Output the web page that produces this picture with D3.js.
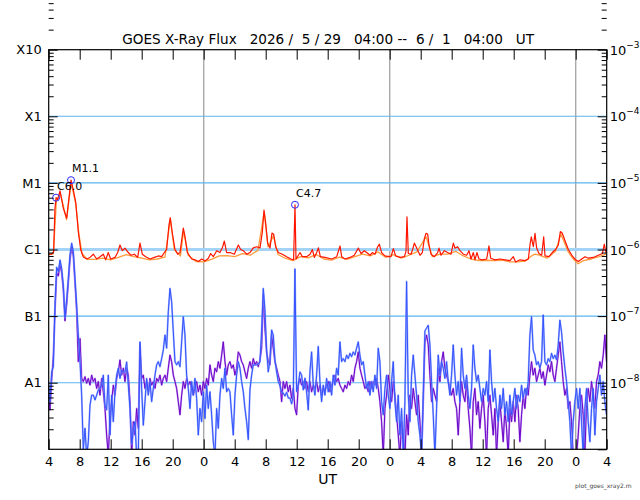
<!DOCTYPE html>
<html lang="en">
<head>
    <meta charset="UTF-8">
    <title>GOES X-Ray Flux</title>
    <style>
        body { margin: 0; background: #ffffff; }
        svg text { font-family: "DejaVu Sans", sans-serif; fill: #000; }
        .title { font-size: 13.6px; white-space: pre; }
        .tick text { font-size: 13px; }
        .foot { font-size: 6px; fill: #444; }
    </style>
</head>
<body>
<svg id="chart" width="640" height="500"></svg>
<script src="https://d3js.org/d3.v7.min.js"></script>
<script>
    // ---- data -------------------------------------------------------------
    const titleText = "GOES X-Ray Flux   2026 /  5 / 29   04:00 --  6 /  1   04:00   UT";
    const startUtc = Date.UTC(2026, 4, 29, 4, 0);
    const endUtc = Date.UTC(2026, 5, 1, 4, 0);

    const decadeValues = [1e-3, 1e-4, 1e-5, 1e-6, 1e-7, 1e-8];
    const classLabels = ["X10", "X1", "M1", "C1", "B1", "A1"];
    const powerLabels = ["-3", "-4", "-5", "-6", "-7", "-8"];

    // long channel (1-8 A), hours after 04:00 UT
    const redHours = [0, 0.39, 0.64, 0.8, 0.95, 1.16, 1.46, 1.89, 2.32, 2.62, 2.88, 3.18, 3.48, 3.82, 4.13, 4.47,
        4.9, 5.33, 5.76, 6.19, 6.62, 7.05, 7.35, 7.69, 7.99, 8.55, 8.9, 9.2, 9.5, 9.84, 10.27, 10.62, 11.05, 11.48,
        11.78, 12.08, 12.51, 13.07, 13.63, 14.15, 14.58, 14.92, 15.22, 15.52, 15.69, 15.95, 16.3, 16.64, 16.94,
        17.16, 17.37, 17.59, 17.89, 18.45, 18.88, 19.31, 19.74, 20.17, 20.6, 20.9, 21.24, 21.68, 22.1, 22.41,
        22.66, 22.96, 23.39, 23.95, 24.47, 24.77, 25.11, 25.54, 25.97, 26.4, 26.83, 27.27, 27.57, 27.78, 28.0,
        28.25, 28.55, 28.81, 29.03, 29.28, 29.63, 30.14, 30.7, 31.26, 31.6, 31.78, 31.91, 32.21, 32.43, 32.73,
        33.29, 33.72, 34.02, 34.28, 34.58, 34.8, 35.05, 35.65, 36.51, 37.16, 37.59, 37.8, 38.23, 38.88, 39.43,
        39.95, 40.3, 40.73, 41.03, 41.46, 41.76, 42.1, 42.45, 42.66, 42.96, 43.39, 43.91, 44.17, 44.47, 44.77,
        45.33, 45.89, 46.1, 46.23, 46.4, 46.75, 46.96, 47.18, 47.48, 47.91, 48.21, 48.47, 48.68, 48.9, 49.07,
        49.33, 49.76, 50.19, 50.36, 50.62, 51.05, 51.48, 51.91, 52.21, 52.42, 52.77, 53.07, 53.5, 53.93, 54.23,
        54.49, 54.79, 55.0, 55.26, 55.52, 55.95, 56.51, 56.81, 57.03, 57.59, 58.23, 58.88, 59.52, 59.95, 60.25,
        60.81, 61.46, 61.89, 62.1, 62.27, 62.53, 62.75, 62.96, 63.26, 63.61, 63.87, 64.04, 64.55, 64.98, 65.41,
        65.76, 66.02, 66.27, 66.62, 67.05, 67.56, 67.99, 68.34, 68.77, 69.2, 69.63, 70.27, 70.92, 71.44, 71.69,
        71.91, 72.0];
    const redFlux = [8.5e-7, 8.5e-7, 9.2e-7, 4.0e-6, 6.0e-6, 5.6e-6, 7.6e-6, 4.15e-6, 2.95e-6, 6.0e-6, 1.1e-5,
        7.8e-6, 5.2e-6, 1.86e-6, 9.9e-7, 7.7e-7, 7.2e-7, 7.6e-7, 8.5e-7, 7.2e-7, 7.8e-7, 8.5e-7, 7.0e-7, 9.0e-7,
        7.2e-7, 7.6e-7, 9.0e-7, 1.17e-6, 9.6e-7, 1.05e-6, 9.0e-7, 8.2e-7, 8.5e-7, 7.6e-7, 1.25e-6, 8.5e-7, 7.8e-7,
        7.2e-7, 7.6e-7, 8.0e-7, 7.8e-7, 9.0e-7, 1.0e-6, 2.35e-6, 3.0e-6, 1.77e-6, 1.0e-6, 8.5e-7, 9.0e-7, 1.39e-6,
        2.1e-6, 1.55e-6, 9.0e-7, 7.2e-7, 7.0e-7, 6.6e-7, 7.2e-7, 6.7e-7, 7.4e-7, 8.7e-7, 7.8e-7, 9.6e-7, 9.0e-7,
        1.06e-6, 1.34e-6, 9.0e-7, 9.0e-7, 8.5e-7, 1.17e-6, 1.0e-6, 9.6e-7, 8.5e-7, 9.0e-7, 1.06e-6, 1.1e-6,
        1.06e-6, 1.86e-6, 3.9e-6, 2.5e-6, 1.25e-6, 1.05e-6, 1.77e-6, 1.7e-6, 1.1e-6, 9.0e-7, 8.5e-7, 7.8e-7,
        7.2e-7, 7.0e-7, 4.7e-6, 7.2e-7, 8.2e-7, 9.0e-7, 7.8e-7, 7.8e-7, 8.5e-7, 1.0e-6, 7.6e-7, 9.0e-7, 1.06e-6,
        7.8e-7, 7.6e-7, 7.2e-7, 7.8e-7, 1.13e-6, 7.8e-7, 7.2e-7, 7.6e-7, 8.2e-7, 1.05e-6, 8.7e-7, 9.6e-7, 9.0e-7,
        8.2e-7, 9.0e-7, 8.5e-7, 1.1e-6, 1.2e-6, 9.0e-7, 8.0e-7, 7.8e-7, 7.8e-7, 1.03e-6, 8.0e-7, 7.6e-7, 7.8e-7,
        9.3e-7, 3.1e-6, 8.7e-7, 8.5e-7, 1.0e-6, 1.25e-6, 1.05e-6, 8.2e-7, 9.0e-7, 1.45e-6, 1.75e-6, 1.7e-6,
        1.17e-6, 8.5e-7, 7.8e-7, 9.0e-7, 1.05e-6, 8.2e-7, 9.6e-7, 9.0e-7, 8.5e-7, 1.25e-6, 1.05e-6, 1.1e-6,
        9.6e-7, 8.5e-7, 8.2e-7, 9.6e-7, 7.2e-7, 9.0e-7, 7.0e-7, 9.0e-7, 7.2e-7, 7.0e-7, 7.2e-7, 1.13e-6, 7.4e-7,
        7.0e-7, 7.2e-7, 7.0e-7, 6.8e-7, 7.8e-7, 6.5e-7, 7.0e-7, 6.8e-7, 7.2e-7, 1.17e-6, 1.55e-6, 1.1e-6,
        1.75e-6, 1.05e-6, 8.7e-7, 8.2e-7, 1.55e-6, 8.0e-7, 7.8e-7, 9.0e-7, 1.0e-6, 1.17e-6, 1.86e-6, 1.75e-6,
        1.35e-6, 1.0e-6, 8.0e-7, 7.0e-7, 6.6e-7, 7.2e-7, 7.8e-7, 7.4e-7, 7.6e-7, 8.2e-7, 8.7e-7, 1.2e-6, 9.0e-7,
        9.0e-7];

    // long channel, second satellite
    const orangeHours = [0, 0.6, 1.0, 1.5, 2.3, 2.9, 3.5, 3.9, 4.3, 5, 6, 7, 8, 9, 10, 11, 12, 13, 14, 15, 15.7,
        16.2, 17, 17.4, 18, 19, 20, 21, 22, 23, 24, 25, 26, 27, 27.8, 28.3, 29, 29.6, 30.5, 31.5, 32.5, 33.5,
        34.5, 35.5, 36.5, 37.5, 38.5, 39.5, 40.5, 41.5, 42.5, 43.5, 44.5, 45.5, 46.5, 47.5, 48.7, 49.5, 50.5,
        51.5, 52.5, 53.5, 54.5, 55.5, 56.5, 57.5, 58.5, 59.5, 60.5, 61.5, 62.3, 62.75, 63.3, 64.3, 65.4, 66.1,
        67, 67.6, 68.3, 69, 70, 71, 72];
    const orangeFlux = [8.4e-7, 8.7e-7, 5.5e-6, 7.0e-6, 2.8e-6, 1.0e-5, 4.8e-6, 1.7e-6, 8.7e-7, 7.1e-7, 7.1e-7,
        7.4e-7, 7.0e-7, 7.6e-7, 8.4e-7, 7.8e-7, 7.4e-7, 7.0e-7, 7.2e-7, 7.7e-7, 2.8e-6, 1.0e-6, 8.0e-7, 1.9e-6,
        8.2e-7, 6.6e-7, 6.5e-7, 7.1e-7, 8.0e-7, 8.1e-7, 7.8e-7, 8.7e-7, 8.2e-7, 9.7e-7, 3.6e-6, 1.1e-6, 1.6e-6,
        8.4e-7, 7.4e-7, 6.8e-7, 7.8e-7, 7.5e-7, 8.4e-7, 7.2e-7, 6.9e-7, 7.7e-7, 7.1e-7, 7.8e-7, 8.5e-7, 8.0e-7,
        9.2e-7, 7.6e-7, 8.4e-7, 7.4e-7, 8.2e-7, 9.2e-7, 1.55e-6, 7.8e-7, 8.5e-7, 8.5e-7, 9.4e-7, 8.0e-7, 7.2e-7,
        6.8e-7, 6.9e-7, 6.8e-7, 6.9e-7, 6.5e-7, 6.5e-7, 6.7e-7, 8.0e-7, 8.5e-7, 8.2e-7, 7.4e-7, 9.4e-7, 1.7e-6,
        9.4e-7, 7.4e-7, 6.1e-7, 6.8e-7, 7.2e-7, 7.8e-7, 8.6e-7];

    // short channel (0.5-4 A), one sample every 12.9 min starting 04:00 - 3 min
    const shortStartHour = -0.047;
    const shortStepHour = 0.215;
    const blueFlux = [
        1.04e-8, 5.2e-9, 1.46e-8, 1.74e-8, 1.5e-7, 5.4e-7, 4.65e-7, 6.95e-7, 5.2e-7, 2.9e-7,
        9.5e-8, 1.75e-7, 3.7e-7, 8.3e-7, 1.24e-6, 9.3e-7, 3.7e-7, 1.47e-7, 5.2e-8, 2.07e-8,
        6.5e-9, 1.0e-9, 2.07e-9, 8e-10, 1.3e-9, 4.6e-9, 6.5e-9, 6.5e-9, 5.5e-9, 6.5e-9,
        7.8e-9, 8.2e-9, 9.2e-9, 1.3e-8, 4.6e-9, 3.9e-9, 1.3e-8, 1.64e-9, 6.5e-9, 2.6e-9,
        7.3e-9, 1.3e-8, 1.65e-8, 1.16e-8, 1.55e-8, 1.45e-8, 1.45e-8, 2.05e-8, 9.2e-9, 4.1e-9,
        1.2e-9, 1.95e-9, 2.6e-9, 8e-10, 8e-10, 4.1e-8, 8.2e-9, 2.3e-9, 5.2e-9, 1.16e-8,
        6.5e-9, 1.04e-8, 5.2e-9, 8.2e-9, 1.3e-8, 1.85e-8, 2.07e-8, 1.74e-8, 2.3e-8, 3.1e-8,
        5.2e-8, 3.3e-8, 1.16e-7, 2.6e-7, 1.65e-7, 5.8e-8, 2.07e-8, 1.85e-8, 2.07e-8, 1.74e-8,
        4.1e-8, 9.8e-8, 5.2e-8, 1.3e-8, 8.2e-9, 4.1e-9, 1.04e-8, 6.5e-9, 1.16e-8, 5.8e-9,
        1.64e-9, 4.1e-9, 2.6e-9, 7.3e-9, 2.9e-9, 9.2e-9, 4.1e-9, 7.3e-9, 3.3e-9, 1.3e-9,
        8e-10, 4.1e-9, 2.07e-9, 6.5e-9, 1.16e-8, 8.2e-9, 1.65e-8, 7.3e-9, 8.2e-9,
        7.3e-9, 3.3e-9, 1.64e-9, 6.5e-9, 1.3e-8, 2.07e-8, 1.65e-8, 1.04e-8, 7.3e-9, 4.1e-9,
        2.6e-9, 1.4e-9, 7.8e-9, 1.3e-8, 1.85e-8, 1.85e-8, 1.85e-8, 1.9e-8, 2.05e-8, 6e-8,
        2.6e-7, 1.24e-7, 3.1e-8, 1.45e-8, 2.2e-8, 6.2e-8, 5.2e-8, 2.2e-8, 1.45e-8, 1.04e-8,
        9e-9, 7.2e-9, 7e-9, 6.3e-9, 7.2e-9, 5.9e-9, 5.9e-9, 4.8e-9, 6.3e-9, 5.1e-7,
        7.3e-9, 9.2e-9, 1.45e-8, 1.3e-8, 7.8e-9, 1.17e-8, 7.3e-9, 3.9e-9, 1.45e-8, 2.9e-8,
        9.2e-9, 6.5e-9, 1.3e-8, 3.5e-8, 1.04e-8, 5.2e-9, 9.2e-9, 6.5e-9, 1.16e-8, 7.3e-9,
        1.04e-8, 6.5e-9, 1.3e-8, 9.2e-9, 1.65e-8, 1.3e-8, 4.1e-8, 2.07e-8, 2.3e-8, 2.07e-8,
        2.6e-8, 2.3e-8, 2.76e-8, 2.45e-8, 2.9e-8, 2.6e-8, 3.3e-8, 4.1e-8, 2.6e-8, 1.85e-8,
        2.07e-8, 1.3e-8, 8.2e-9, 1.04e-8, 6.5e-9, 1.04e-8, 7.3e-9, 1.3e-8, 8.2e-9, 3.3e-8,
        2.07e-8, 5.2e-9, 3.3e-9, 8.2e-9, 1.3e-8, 6.5e-9, 4.1e-9, 1.04e-8, 2.07e-8, 5.2e-9,
        2.6e-9, 6.5e-9, 1.64e-9, 4.1e-9, 8e-10, 5.2e-9, 3.3e-7, 6.5e-9, 2.6e-9, 1.3e-8,
        2.6e-8, 1.3e-8, 6.5e-9,
        2.6e-9, 1.64e-9, 8e-10, 6.5e-9, 6e-8, 6.6e-8, 7.3e-8, 3.7e-8, 1.04e-8, 3.3e-9,
        8e-10, 4.1e-9, 2.6e-8, 1.3e-8, 2.07e-8, 1.65e-8, 1.16e-8, 2.07e-8, 1.04e-8, 6.5e-9,
        1.3e-8, 3.7e-8, 1.3e-8, 6.5e-9, 1.04e-8, 5.2e-9, 3.3e-8, 1.3e-8, 8.2e-9, 1.3e-8,
        6.5e-9, 4.1e-9, 8.2e-9, 3.7e-8, 1.65e-8, 1.04e-8, 1.3e-8, 8.2e-9, 5.2e-9, 8.2e-9,
        6.5e-9, 1.04e-8, 5.2e-9, 3.1e-8, 1.04e-8, 5.2e-9, 8.2e-9, 4.1e-9, 2.6e-9, 6.5e-9,
        4.1e-9, 8.2e-9, 3.3e-9, 5.2e-9, 2.6e-9, 6.5e-9, 3.3e-9, 5.2e-9, 8.2e-9, 4.1e-9,
        6.5e-9, 5.2e-9, 9.2e-9, 5.8e-9, 8.2e-9, 6.5e-9, 1.04e-8, 5.2e-8, 9.8e-8, 3.1e-8,
        2.6e-8, 1.85e-8, 2.07e-8, 1.65e-8, 2.07e-8, 1.04e-7, 2.07e-8, 1.85e-8, 2.3e-8, 2.07e-8,
        2.76e-8, 2.3e-8, 2.6e-8, 2.2e-8, 3.7e-8, 8.7e-8, 5.8e-8, 2.9e-8, 1.65e-8, 1.04e-8,
        5.2e-9, 2.6e-9, 8e-10, 2.6e-9, 5.2e-9, 8.2e-9, 4.1e-9, 8.2e-9, 2.6e-9, 8e-10,
        4.1e-9, 8.2e-9, 2.6e-9, 1.3e-9, 4.1e-9, 8.2e-9, 1.64e-9, 5.2e-9, 8.2e-9, 1.3e-8,
        6.5e-9, 1.04e-8, 5.2e-9, 3.3e-9];
    const purpleFlux = [
        6.5e-9, 3.9e-9, 1.1e-8, 2.5e-8, 1.2e-7, 4.5e-7, 4e-7, 6e-7, 4.5e-7, 2.5e-7,
        8.5e-8, 1.5e-7, 3.2e-7, 7e-7, 1.1e-6, 8e-7, 3.2e-7, 1.2e-7, 2.07e-8, 4.6e-8,
        1.17e-8, 1.04e-8, 1.23e-8, 9.8e-9, 1.16e-8, 9.2e-9, 1.3e-8, 1.04e-8, 1.16e-8, 8.2e-9,
        1.04e-8, 6.5e-9, 1.16e-8, 7.3e-9, 4.1e-9, 1.64e-9, 8e-10, 3e-9, 5.2e-9, 9.2e-9,
        6.5e-9, 1.16e-8, 1.46e-8, 2.2e-8, 1.3e-8, 1.65e-8, 1.04e-8, 1.65e-8, 1.3e-8, 5.2e-9,
        8e-10, 2.6e-9, 1.64e-9, 4.1e-9, 2.07e-9, 3.7e-8, 1.16e-8, 1.3e-8, 8.2e-9, 1.04e-8,
        7.3e-9, 1.16e-8, 9.2e-9, 1.04e-8, 8.2e-9, 1.16e-8, 1.04e-8, 1.3e-8, 9.2e-9, 1.16e-8,
        1.3e-8, 1.04e-8, 1.65e-8, 2.6e-8, 2.07e-8, 1.3e-8, 1.04e-8, 8.2e-9, 5.2e-9, 3.3e-9,
        6.5e-9, 1.04e-8, 8.2e-9, 1.16e-8, 9.2e-9, 1.04e-8, 8.2e-9, 6.5e-9, 8.2e-9, 1.04e-8,
        7.3e-9, 9.2e-9, 6.5e-9, 1.04e-8, 8.2e-9, 1.16e-8, 9.2e-9, 1.85e-8, 1.3e-8, 1.04e-8,
        1.65e-8, 1.46e-8, 2.07e-8, 1.65e-8, 2.6e-8, 4.1e-8, 2.07e-8, 1.3e-8, 1.85e-8,
        2.07e-8, 1.65e-8, 1.85e-8, 1.3e-8, 1.65e-8, 2.9e-8, 2.6e-8, 2.07e-8, 1.85e-8, 1.46e-8,
        1.16e-8, 1.65e-8, 2.07e-8, 1.65e-8, 2.3e-8, 1.85e-8, 2.07e-8, 1.74e-8, 2.2e-8, 3.3e-8,
        2.1e-7, 6.6e-8, 2.9e-8, 2.07e-8, 1.85e-8, 5.2e-8, 3.3e-8, 2.07e-8, 1.65e-8, 1.3e-8,
        1.04e-8, 5.2e-9, 1.04e-8, 8.2e-9, 1.04e-8, 7.3e-9, 9.2e-9, 5.8e-9, 8.2e-9, 4.1e-9,
        3.3e-9, 9.2e-9, 1.16e-8, 9.2e-9, 1.04e-8, 8.2e-9, 1.04e-8, 7.3e-9, 1.04e-8, 7.3e-9,
        9.2e-9, 8.2e-9, 1.04e-8, 7.3e-9, 9.2e-9, 6.5e-9, 8.2e-9, 7.3e-9, 9.2e-9, 1.04e-8,
        7.3e-9, 9.2e-9, 1.04e-8, 1.3e-8, 1.04e-8, 1.16e-8, 9.2e-9, 8.2e-9, 7.3e-9, 9.2e-9,
        8.2e-9, 1.04e-8, 9.2e-9, 1.3e-8, 1.04e-8, 1.65e-8, 2.07e-8, 2.9e-8, 1.65e-8, 1.3e-8,
        1.04e-8, 8.2e-9, 9.2e-9, 7.3e-9, 1.04e-8, 8.2e-9, 1.04e-8, 9.2e-9, 1.16e-8, 8.2e-9,
        5.2e-9, 2.6e-9, 8e-10, 4.1e-9, 6.5e-9, 1.3e-8, 8.2e-9, 5.2e-9, 1.04e-8, 6.5e-9,
        3.3e-9, 1.64e-9, 8e-10, 2.6e-9, 1.64e-9, 8e-10, 3.3e-9, 1.64e-9, 6.5e-9, 4.1e-9,
        8.2e-9, 5.2e-9, 3.3e-9,
        6.5e-9, 2.6e-9, 8e-10, 5.2e-9, 4.1e-8, 5.2e-8, 3.7e-8, 1.3e-8, 5.2e-9, 8.2e-9,
        6.5e-9, 5.2e-9, 1.65e-8, 1.04e-8, 2.07e-8, 2.9e-8, 1.65e-8, 1.3e-8, 1.04e-8, 8.2e-9,
        6.5e-9, 8.2e-9, 5.2e-9, 4.1e-9, 1.64e-9, 5.2e-9, 1.04e-8, 6.5e-9, 5.2e-9, 1.04e-8,
        4.1e-9, 2.07e-9, 8e-10, 5.2e-9, 8.2e-9, 3.3e-9, 5.2e-9, 2.07e-9, 4.1e-9, 6.5e-9,
        2.6e-9, 8e-10, 4.1e-9, 6.5e-9, 3.3e-9, 1.64e-9, 4.1e-9, 8e-10, 2.6e-9, 5.2e-9,
        2.6e-9, 1.3e-9, 4.1e-9, 2.07e-9, 8e-10, 4.1e-9, 2.6e-9, 5.2e-9, 2.6e-9, 6.5e-9,
        4.1e-9, 1.3e-9, 3.3e-9, 6.5e-9, 4.1e-9, 8.2e-9, 6.5e-9, 1.3e-8, 2.07e-8, 1.3e-8,
        1.65e-8, 1.04e-8, 1.3e-8, 1.65e-8, 1.16e-8, 1.46e-8, 9.2e-9, 1.3e-8, 1.85e-8, 1.46e-8,
        2.07e-8, 1.3e-8, 1.04e-8, 1.65e-8, 2.6e-8, 4.1e-8, 2.07e-8, 1.04e-8, 6.5e-9, 8.2e-9,
        4.1e-9, 5.2e-9, 2.6e-9, 8e-10, 8e-10, 8e-10, 1.64e-9, 4.1e-9, 6.5e-9, 3.3e-9,
        8e-10, 5.2e-9, 8.2e-9, 5.2e-9, 1.04e-8, 6.5e-9, 4.1e-9, 1.04e-8, 1.3e-8, 2.07e-8,
        1.65e-8, 2.6e-8, 5.2e-8, 2.07e-8];

    // flare peaks marked on the plot
    const flareNames = ["C6.0", "M1.1", "C4.7"];
    const flareHours = [0.95, 2.88, 31.78];
    const flareFlux = [6.0e-6, 1.1e-5, 4.7e-6];

    // ---- layout ------------------------------------------------------------
    let plot = {left: 48.7, right: 606.7, top: 49.7, bottom: 449.3};

    const hourToDate = h => new Date(startUtc + h * 3600e3);

    let x = d3.scaleUtc()
        .domain([new Date(startUtc), new Date(endUtc)])
        .range([plot.left, plot.right]);

    let y = d3.scaleLog()
        .domain([1e-9, 1e-3])
        .range([plot.bottom, plot.top]);

    const svg = d3.select("#chart");

    svg.append("defs").append("clipPath")
        .attr("id", "plotClip")
        .append("rect")
        .attr("x", plot.left)
        .attr("y", plot.top)
        .attr("width", plot.right - plot.left)
        .attr("height", plot.bottom - plot.top);

    // grid lines
    let hourTicks = d3.utcHour.every(4).range(new Date(startUtc), new Date(endUtc + 1));
    let midnights = d3.utcDay.range(new Date(startUtc), new Date(endUtc));

    svg.append("g")
        .selectAll("line")
        .data(midnights)
        .join("line")
        .attr("x1", d => x(d))
        .attr("x2", d => x(d))
        .attr("y1", plot.top)
        .attr("y2", plot.bottom)
        .attr("stroke", "#a9a9a9")
        .attr("stroke-width", 1.4);

    svg.append("g")
        .selectAll("line")
        .data(decadeValues.slice(1))
        .join("line")
        .attr("x1", plot.left)
        .attr("x2", plot.right)
        .attr("y1", d => y(d))
        .attr("y2", d => y(d))
        .attr("stroke", d => d === 1e-6 ? "#a3d3f6" : "#5db5ef")
        .attr("stroke-width", d => d === 1e-6 ? 3 : 1.1);

    // data lines
    const data = svg.append("g").attr("clip-path", "url(#plotClip)");

    let line = d3.line()
        .x(d => x(hourToDate(d[0])))
        .y(d => y(d[1]));

    function drawSeries(hours, flux, color, width, opacity) {
        data.append("path")
            .datum(d3.zip(hours, flux))
            .attr("fill", "none")
            .attr("stroke", color)
            .attr("stroke-width", width)
            .attr("stroke-opacity", opacity)
            .attr("stroke-linejoin", "round")
            .attr("d", line);
    }

    let shortHours = d3.range(blueFlux.length).map(i => shortStartHour + i * shortStepHour);
    let shortHoursP = d3.range(purpleFlux.length).map(i => shortStartHour + i * shortStepHour);

    drawSeries(shortHoursP, purpleFlux, "#b070e8", 1.9, 0.7);
    drawSeries(shortHoursP, purpleFlux, "#6a05c9", 1.0, 1);
    drawSeries(shortHours, blueFlux, "#7f97ff", 1.9, 0.7);
    drawSeries(shortHours, blueFlux, "#3352ff", 1.0, 1);
    drawSeries(orangeHours, orangeFlux, "#ff9b3d", 1.3, 1);
    drawSeries(redHours, redFlux, "#ff1500", 1.2, 1);

    // flare markers
    let flares = d3.zip(flareNames, flareHours, flareFlux);
    svg.append("g")
        .selectAll("circle")
        .data(flares)
        .join("circle")
        .attr("cx", d => x(hourToDate(d[1])))
        .attr("cy", d => y(d[2]))
        .attr("r", 3.5)
        .attr("fill", "none")
        .attr("stroke", "#2a2aff")
        .attr("stroke-width", 1);

    svg.append("g")
        .selectAll("text")
        .data(flares)
        .join("text")
        .attr("x", d => x(hourToDate(d[1])) + 1)
        .attr("y", d => y(d[2]) - 8)
        .style("font-size", "11px")
        .text(d => d[0]);

    // axes: ticks drawn inward
    function cleanAxis(g) {
        g.select(".domain").remove();
        g.selectAll(".tick line").attr("stroke", "#000");
    }

    svg.append("g")
        .attr("transform", `translate(0, ${plot.bottom})`)
        .call(d3.axisBottom(x).tickValues(hourTicks).tickSizeInner(-10).tickSizeOuter(0).tickPadding(7)
            .tickFormat(d => d.getUTCHours()))
        .call(cleanAxis);

    svg.append("g")
        .attr("transform", `translate(0, ${plot.top})`)
        .call(d3.axisTop(x).tickValues(hourTicks).tickSizeInner(-10).tickSizeOuter(0).tickFormat(""))
        .call(cleanAxis);

    let majorValues = [1e-9].concat(decadeValues);
    let minorValues = [];
    majorValues.slice(0, -1).forEach(v => {
        for (let m = 2; m <= 9; m++) minorValues.push(v * m);
    });

    svg.append("g")
        .attr("transform", `translate(${plot.left}, 0)`)
        .call(d3.axisLeft(y).tickValues(decadeValues).tickSizeInner(-9).tickSizeOuter(0).tickPadding(7)
            .tickFormat((d, i) => classLabels[i]))
        .call(cleanAxis);

    svg.append("g")
        .attr("transform", `translate(${plot.left}, 0)`)
        .call(d3.axisLeft(y).tickValues(minorValues).tickSizeInner(-5).tickSizeOuter(0).tickFormat(""))
        .call(cleanAxis);

    svg.append("g")
        .attr("transform", `translate(${plot.right}, 0)`)
        .call(d3.axisRight(y).tickValues(majorValues).tickSizeInner(-9).tickSizeOuter(0).tickFormat(""))
        .call(cleanAxis);

    svg.append("g")
        .attr("transform", `translate(${plot.right}, 0)`)
        .call(d3.axisRight(y).tickValues(minorValues).tickSizeInner(-5).tickSizeOuter(0).tickFormat(""))
        .call(cleanAxis);

    // right-hand power labels
    let powers = svg.append("g")
        .selectAll("text")
        .data(d3.zip(decadeValues, powerLabels))
        .join("text")
        .attr("x", plot.right + 3)
        .attr("y", d => y(d[0]) + 5)
        .style("font-size", "13px");
    powers.append("tspan").text("10");
    powers.append("tspan")
        .attr("dy", -7)
        .style("font-size", "9px")
        .text(d => d[1].replace("-", "\u2212"));

    // frame
    svg.append("rect")
        .attr("x", plot.left)
        .attr("y", plot.top)
        .attr("width", plot.right - plot.left)
        .attr("height", plot.bottom - plot.top)
        .attr("fill", "none")
        .attr("stroke", "#000")
        .attr("stroke-width", 1.2);

    svg.append("text")
        .attr("class", "title")
        .attr("x", (plot.left + plot.right) / 2 + 0.5)
        .attr("y", 44)
        .attr("text-anchor", "middle")
        .text(titleText);

    svg.append("text")
        .attr("x", (plot.left + plot.right) / 2)
        .attr("y", 484)
        .attr("text-anchor", "middle")
        .style("font-size", "14px")
        .text("UT");

    svg.append("text")
        .attr("class", "foot")
        .attr("x", 575)
        .attr("y", 488)
        .text("plot_goes_xray2.m");
</script>
</body>
</html>
